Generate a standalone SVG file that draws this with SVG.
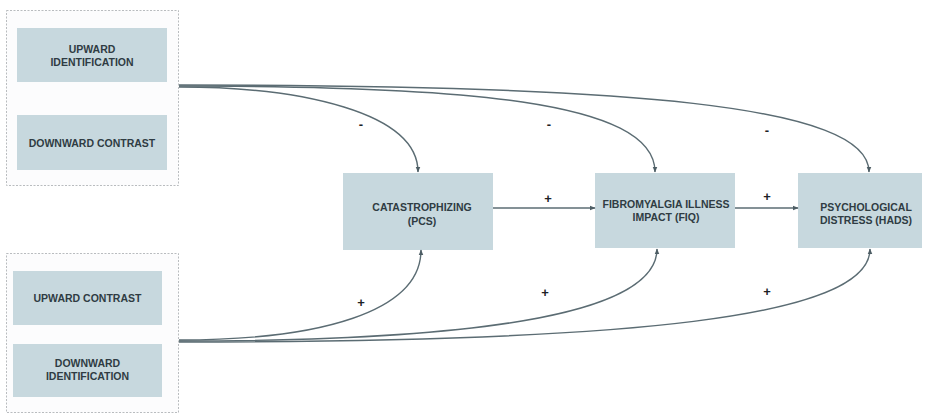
<svg xmlns="http://www.w3.org/2000/svg" width="932" height="414" viewBox="0 0 932 414">
<style>
.grp{fill:#fcfcfd;stroke:#b9bcbf;stroke-width:1;stroke-dasharray:2 1.5}
.box{fill:#c7d8de}
.t{font-family:"Liberation Sans",Arial,sans-serif;font-weight:bold;font-size:10.5px;fill:#2f3c43;text-anchor:middle}
.s{font-family:"Liberation Sans",Arial,sans-serif;font-weight:bold;font-size:13px;fill:#1c2226;text-anchor:middle}
.c{fill:none;stroke:#5b6c73;stroke-width:1.4}
</style>
<defs>
<marker id="ah" viewBox="0 0 10 10" refX="9" refY="5" markerWidth="6" markerHeight="6" orient="auto" markerUnits="userSpaceOnUse">
<path d="M0,1 L10,5 L0,9 z" fill="#4d5d64"/>
</marker>
</defs>
<rect width="932" height="414" fill="#ffffff"/>
<g id="group-top">
<rect class="grp" x="6.5" y="10.5" width="172" height="175"/>
</g>
<g id="group-bottom">
<rect class="grp" x="6.5" y="253.5" width="172" height="159"/>
</g>
<g id="upward-identification">
<rect class="box" x="17" y="28" width="150" height="54"/>
<text class="t" x="92" y="53">UPWARD</text>
<text class="t" x="92" y="66">IDENTIFICATION</text>
</g>
<g id="downward-contrast">
<rect class="box" x="17" y="115" width="150" height="55"/>
<text class="t" x="92" y="146.5">DOWNWARD CONTRAST</text>
</g>
<g id="upward-contrast">
<rect class="box" x="13" y="271" width="149" height="54"/>
<text class="t" x="87.5" y="301.5">UPWARD CONTRAST</text>
</g>
<g id="downward-identification">
<rect class="box" x="13" y="344" width="149" height="53"/>
<text class="t" x="87.5" y="367">DOWNWARD</text>
<text class="t" x="87.5" y="380">IDENTIFICATION</text>
</g>
<g id="catastrophizing">
<rect class="box" x="343" y="173" width="150" height="77"/>
<text class="t" x="422" y="211">CATASTROPHIZING</text>
<text class="t" x="422" y="225">(PCS)</text>
</g>
<g id="fiq">
<rect class="box" x="595" y="173" width="140" height="75"/>
<text class="t" x="666" y="208">FIBROMYALGIA ILLNESS</text>
<text class="t" x="666" y="221">IMPACT (FIQ)</text>
</g>
<g id="hads">
<rect class="box" x="798" y="173" width="124" height="75"/>
<text class="t" x="866" y="211">PSYCHOLOGICAL</text>
<text class="t" x="866" y="224">DISTRESS (HADS)</text>
</g>
<g id="connectors">
<path class="c" d="M179,87 C300,87 418,112 418,172" marker-end="url(#ah)"/>
<path class="c" d="M179,86 C460,86 655,100 655,172" marker-end="url(#ah)"/>
<path class="c" d="M179,85 C630,85 869,105 869,172" marker-end="url(#ah)"/>
<path class="c" d="M179,340 C320,340 421,312 421,250" marker-end="url(#ah)"/>
<path class="c" d="M179,341 C460,341 657,318 657,249" marker-end="url(#ah)"/>
<path class="c" d="M179,342 C630,342 870,318 870,249" marker-end="url(#ah)"/>
<path class="c" d="M493,208 L595,208" marker-end="url(#ah)"/>
<path class="c" d="M735,208 L798,208" marker-end="url(#ah)"/>
<text class="s" x="361" y="129">-</text>
<text class="s" x="549" y="129">-</text>
<text class="s" x="767" y="135">-</text>
<text class="s" x="361" y="307">+</text>
<text class="s" x="545" y="297">+</text>
<text class="s" x="767" y="296">+</text>
<text class="s" x="548" y="203">+</text>
<text class="s" x="767" y="201">+</text>
</g>
</svg>
